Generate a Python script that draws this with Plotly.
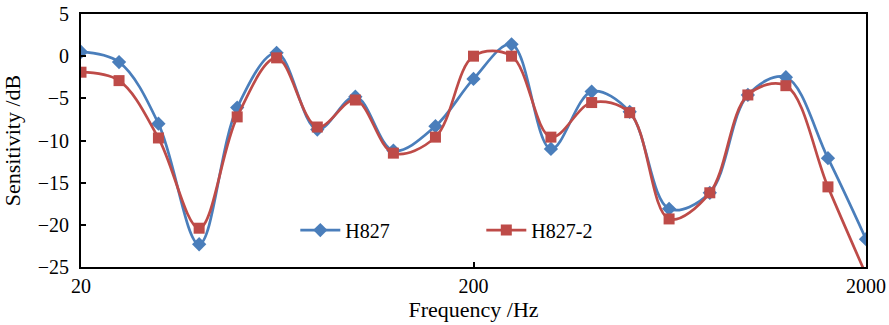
import plotly.graph_objects as go

freq = [20, 25, 31.5, 40, 50, 63, 80, 100, 125, 160, 200, 250, 315, 400, 500, 630, 800, 1000, 1250, 1600, 2000]
h827 = [0.5, -0.7, -8.0, -22.3, -6.1, 0.4, -8.7, -4.8, -11.2, -8.3, -2.7, 1.4, -11.0, -4.2, -6.6, -18.1, -16.2, -4.6, -2.5, -12.1, -21.7]
h827_2 = [-1.9, -2.9, -9.7, -20.4, -7.2, -0.2, -8.4, -5.2, -11.5, -9.6, 0.0, 0.0, -9.6, -5.5, -6.7, -19.3, -16.2, -4.6, -3.5, -15.5, -25.9]
series_names = ["H827", "H827-2"]
colors = ["#4A7EBB", "#BE4B48"]

fig = go.Figure()
fig.add_trace(go.Scatter(
    x=freq, y=h827, name=series_names[0], mode="lines+markers",
    line=dict(color=colors[0], width=2.7, shape="spline", smoothing=1.0),
    marker=dict(symbol="diamond", size=11, color=colors[0]),
    cliponaxis=True,
))
fig.add_trace(go.Scatter(
    x=freq, y=h827_2, name=series_names[1], mode="lines+markers",
    line=dict(color=colors[1], width=2.7, shape="spline", smoothing=1.0),
    marker=dict(symbol="square", size=11, color=colors[1]),
    cliponaxis=True,
))

font_family = "Liberation Serif"
fig.update_layout(
    width=889, height=325,
    margin=dict(l=81, r=23, t=14, b=58),
    paper_bgcolor="white", plot_bgcolor="white",
    font=dict(family=font_family, size=20, color="black"),
    showlegend=True,
    legend=dict(
        orientation="h", x=0.273, y=0.146, xanchor="left", yanchor="middle",
        bgcolor="rgba(0,0,0,0)", font=dict(size=20, family=font_family),
        entrywidth=131, entrywidthmode="pixels", itemwidth=40,
    ),
    xaxis=dict(
        type="log", range=[1.30103, 3.30103], automargin=False,
        tickvals=[20, 200, 2000], ticktext=["20", "200", "2000"],
        ticks="inside", ticklen=5, tickwidth=1.5, tickcolor="black",
        showline=True, linecolor="black", linewidth=2, mirror=True,
        showgrid=False, zeroline=False,
        title=dict(text="Frequency /Hz", standoff=0, font=dict(size=22)),
        tickfont=dict(size=20),
    ),
    yaxis=dict(
        range=[-25, 5], tickvals=[5, 0, -5, -10, -15, -20, -25], automargin=False,
        ticks="inside", ticklen=5, tickwidth=1.5, tickcolor="black",
        showline=True, linecolor="black", linewidth=2, mirror=True,
        showgrid=False, zeroline=False, ticklabelstandoff=6,
        title=dict(text="Sensitivity /dB", standoff=12, font=dict(size=22)),
        tickfont=dict(size=20),
    ),
)

fig.write_html("out.html", config={"displayModeBar": False},
               post_script="document.body.style.margin='0';document.body.style.overflow='hidden';")
